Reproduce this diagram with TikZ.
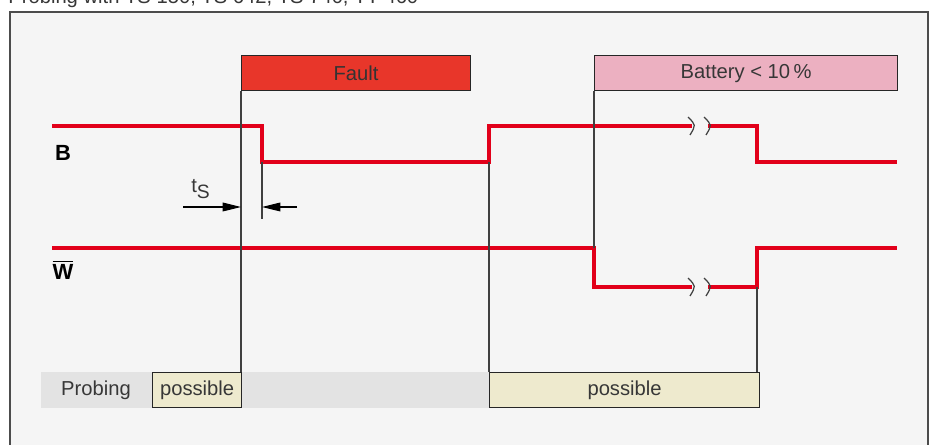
\documentclass[tikz,border=0pt]{standalone}
\usepackage{fontspec}
\setmainfont{Liberation Sans}
\usepackage{tikz}
\usetikzlibrary{positioning, arrows.meta}
\definecolor{sigred}{RGB}{226, 0, 26}
\definecolor{faultred}{RGB}{232, 54, 42}
\definecolor{battpink}{RGB}{236, 176, 193}
\definecolor{okcream}{RGB}{238, 234, 206}
\definecolor{bargray}{RGB}{227, 227, 227}
\definecolor{panel}{RGB}{245, 245, 245}
\definecolor{txt}{RGB}{55, 55, 55}

\begin{document}
\begin{tikzpicture}[x=0.02cm, y=-0.02cm, >={Triangle[length=10.5pt, width=5pt]},
  signal/.style={line width=2.3pt, sigred, line join=miter},
  guide/.style={line width=0.6pt, black!75},
  statebox/.style={draw=black!85, line width=0.7pt, anchor=north west, inner sep=0pt,
    minimum height=0.7cm, text=txt, font=\fontsize{11.5}{13}\selectfont}]
  \useasboundingbox (0,0) rectangle (936,445);

  % Frame and title
  \node[anchor=base west, text=txt, font=\fontsize{11.5}{13}\selectfont, inner sep=0pt] (title) at (8,4)
    {Probing with TS 150, TS 642, TS 740, TT 460};
  \draw[black!70, line width=0.9pt, fill=panel] (10,12) rectangle (928,470);

  % State boxes on top
  \node[statebox, fill=faultred, minimum width=4.58cm, text=black!80] (fault) at (241,55) {Fault};
  \node[statebox, fill=battpink, minimum width=6.06cm] (batt) at (594,55) {Battery < 10\,\%};

  % Probing bar
  \fill[bargray] (41,372) rectangle (489,408);
  \node[text=txt, font=\fontsize{11.5}{13}\selectfont] (probing) at (96,390) {Probing};
  \node[statebox, fill=okcream, minimum width=1.78cm] (ok1) at (152,372) {possible};
  \node[statebox, fill=okcream, minimum width=5.4cm] (ok2) at (489,372) {possible};

  % Signal names
  \node[font=\fontsize{12.5}{14}\selectfont\bfseries] (lblB) at (63,153) {B};
  \node[font=\fontsize{12.5}{14}\selectfont\bfseries] (lblW) at (63,270) {$\overline{\mbox{W}}$};

  % Signal B
  \coordinate (B0) at (52,126);
  \coordinate (Bfall) at (262,126);
  \coordinate (Brise) at (489,162);
  \coordinate (Bcut) at (757,126);
  \coordinate (Bend) at (897,162);
  \draw[signal] (B0) -- (Bfall) -- (Bfall |- Bend) -- (Brise) -- (Brise |- B0) -- (692,126);
  \draw[signal] (708,126) -- (Bcut) -- (Bcut |- Bend) -- (Bend);

  % Signal W
  \coordinate (W0) at (52,248);
  \coordinate (Wfall) at (594,248);
  \coordinate (Wrise) at (757,287);
  \coordinate (Wend) at (897,248);
  \draw[signal] (W0) -- (Wfall) -- (Wfall |- Wrise) -- (692,287);
  \draw[signal] (708,287) -- (Wrise) -- (Wrise |- Wend) -- (Wend);

  % Break marks
  \foreach \y in {126,287} {
    \foreach \x in {692,708} {
      \draw[guide, line width=0.7pt] (\x-4,\y-9) .. controls (\x+4,\y-1) .. (\x-2,\y+9);
    }
  }

  % Guide lines
  \draw[guide] (fault.south west) -- (fault.south west |- ok1.north);
  \draw[guide] (Brise) -- (ok2.north west);
  \draw[guide] (batt.south west) -- (Wfall);
  \draw[guide] (Wrise) -- (Wrise |- ok2.north);
  \coordinate (tsL) at (183,207);
  \coordinate (tsR) at (297,207);
  \draw[guide] (Bfall |- Bend) -- (262,219);

  % Setup time t_S
  \draw[guide, ->, black] (tsL) -- (fault.south west |- tsL);
  \draw[guide, ->, black] (tsR) -- (Bfall |- tsR);
  \node[text=txt, font=\fontsize{11.5}{13}\selectfont] (ts) at (201,189) {t\textsubscript{\fontsize{11}{12}\selectfont S}};
\end{tikzpicture}
\end{document}
